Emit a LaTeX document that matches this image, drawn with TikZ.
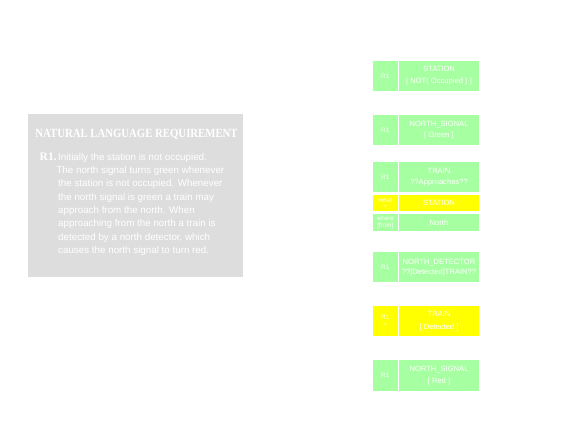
\documentclass[tikz,border=0pt]{standalone}
\usepackage{fontspec}
\setmainfont{Liberation Serif}
\setsansfont{Liberation Sans}
\definecolor{cgreen}{RGB}{166,255,160}
\definecolor{cyellow}{RGB}{255,255,0}
\definecolor{cgray}{RGB}{221,221,221}
\tikzset{
  cell/.style={inner sep=0pt, align=center, text=white, font=\sffamily\fontsize{7.6}{11.6}\selectfont},
  gcell/.style={cell, fill=cgreen},
  ycell/.style={cell, fill=cyellow},
  lcell/.style={minimum width=24.7pt, font=\sffamily\fontsize{6.5}{7}\selectfont},
  rcell/.style={minimum width=80pt},
  body/.style={anchor=base west, inner sep=0pt, text=white, font=\sffamily\fontsize{9.8}{11}\selectfont},
}
\begin{document}
\begin{tikzpicture}[x=1pt,y=-1pt]
\path[use as bounding box, fill=white] (0,0) rectangle (564,437);
% requirement panel
\node[fill=cgray, minimum width=215pt, minimum height=163pt, inner sep=0pt] (panel) at (135.5,195.5) {};
\node[inner sep=0pt, text=white, font=\rmfamily\bfseries\fontsize{12.5}{14}\selectfont] (title) at (136.5,134) {\scalebox{0.86}[1]{NATURAL LANGUAGE REQUIREMENT}};
\node[anchor=base west, inner sep=0pt, text=white, font=\rmfamily\bfseries\fontsize{11.5}{13}\selectfont] (r1) at (39.5,160) {R1.};
\node[body] (l1) at (58,160) {Initially the station is not occupied.};
\node[body] (l2) at (56.3,173.3) {The north signal turns green whenever};
\node[body] (l3) at (58,186.7) {the station is not occupied. Whenever};
\node[body] (l4) at (58,200) {the north signal is green a train may};
\node[body] (l5) at (58,213.4) {approach from the north. When};
\node[body] (l6) at (58,226.8) {approaching from the north a train is};
\node[body] (l7) at (58,240.2) {detected by a north detector, which};
\node[body] (l8) at (58,253.6) {causes the north signal to turn red.};
% box 1
\node[gcell, lcell, minimum height=29.7pt] (b1l) at (385.35,75.85) {R1};
\node[gcell, rcell, minimum height=29.7pt] (b1r) at (439,75.85) {STATION\\{[} NOT( Occupied ) {]}};
% box 2
\node[gcell, lcell, minimum height=29.4pt] (b2l) at (385.35,130) {R1};
\node[gcell, rcell, minimum height=29.4pt] (b2r) at (439,130) {NORTH\_SIGNAL\\{[} Green {]}};
% box 3
\node[gcell, lcell, minimum height=30.3pt] (b3l) at (385.35,177.15) {R1};
\node[gcell, rcell, minimum height=30.3pt] (b3r) at (439,177.15) {TRAIN\\??Approaches??};
\node[ycell, lcell, minimum height=16.6pt, font=\sffamily\fontsize{6.3}{6.5}\selectfont] (b3wl) at (385.35,203) {what\\+};
\node[ycell, rcell, minimum height=16.6pt] (b3wr) at (439,203) {STATION};
\node[gcell, lcell, minimum height=17.6pt, font=\sffamily\fontsize{6.3}{7.3}\selectfont] (b3fl) at (385.35,222.5) {where\\{[}from{]}};
\node[gcell, rcell, minimum height=17.6pt] (b3fr) at (439,222.5) {North};
% box 4
\node[gcell, lcell, minimum height=30.3pt] (b4l) at (385.35,267.15) {R1};
\node[gcell, rcell, minimum height=30.3pt, font=\sffamily\fontsize{7.6}{10}\selectfont] (b4r) at (439,267.15) {NORTH\_DETECTOR\\??{[}Detected{]}TRAIN??};
% box 5
\node[ycell, lcell, minimum height=29.4pt, font=\sffamily\fontsize{6.5}{8}\selectfont] (b5l) at (385.35,321) {R1\\*};
\node[ycell, rcell, minimum height=29.4pt, font=\sffamily\fontsize{7.6}{13}\selectfont] (b5r) at (439,321) {TRAIN\\{[} Detected {]}};
% box 6
\node[gcell, lcell, minimum height=30.7pt] (b6l) at (385.35,375.35) {R1};
\node[gcell, rcell, minimum height=30.7pt] (b6r) at (439,375.35) {NORTH\_SIGNAL\\{[} Red {]}};
\end{tikzpicture}
\end{document}
